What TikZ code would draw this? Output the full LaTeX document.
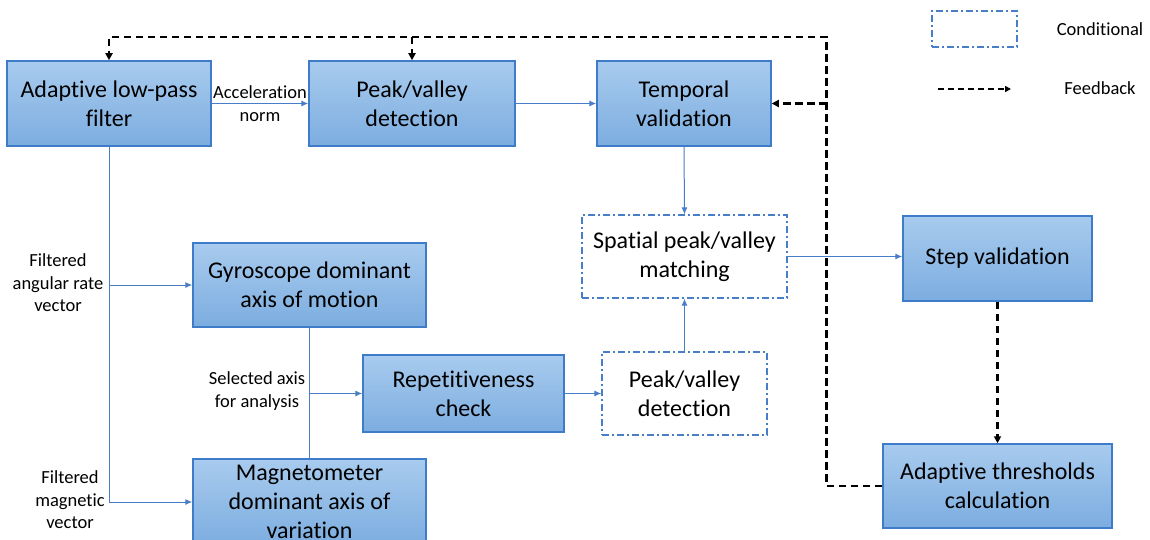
\documentclass[tikz,border=0pt]{standalone}
\usepackage{fontspec}
\setmainfont{Carlito}[Ligatures=NoCommon]
\usetikzlibrary{arrows.meta}
\definecolor{boxtop}{RGB}{168,203,238}
\definecolor{boxbot}{RGB}{124,173,224}
\definecolor{boxedge}{RGB}{62,124,202}
\definecolor{flow}{RGB}{72,126,200}
\tikzset{
  box/.style={draw=boxedge, line width=1.5pt, top color=boxtop, bottom color=boxbot,
    align=center, inner sep=0pt, font=\fontsize{24}{29}\selectfont},
  cond/.style={draw=flow, line width=1.3pt, dash pattern=on 7pt off 3pt on 2pt off 3pt,
    align=center, inner sep=0pt, font=\fontsize{24}{29}\selectfont},
  lbl/.style={align=center, inner sep=0pt, font=\fontsize{18.5}{22.5}\selectfont},
  flowline/.style={draw=flow, line width=1pt},
  flowarrow/.style={flowline, -{Latex[length=7pt,width=6pt]}},
  fbline/.style={draw=black, line width=2.2pt, dash pattern=on 7.5pt off 4.5pt},
  fbarrow/.style={fbline, -{Triangle[length=7pt,width=7pt]}},
}
\begin{document}
\begin{tikzpicture}[x=1pt,y=-1pt]
\clip (0,0) rectangle (1150,540);
\fill[white] (0,0) rectangle (1150,540);
% boxes
\node[box, minimum width=204, minimum height=85] (lpf) at (109,103.5) {Adaptive low-pass\\filter};
\node[box, minimum width=206, minimum height=85] (pk1) at (412,103.5) {Peak/valley\\detection};
\node[box, minimum width=174, minimum height=85] (tv) at (684,103.5) {Temporal\\validation};
\node[cond, minimum width=205, minimum height=83] (sp) at (684.5,256.5) {Spatial peak/valley\\matching};
\node[box, minimum width=189, minimum height=85] (sv) at (997.5,258.5) {Step validation};
\node[box, minimum width=229, minimum height=84] (at) at (997.5,486) {Adaptive thresholds\\calculation};
\node[box, minimum width=233, minimum height=84] (gy) at (309.5,285) {Gyroscope dominant\\axis of motion};
\node[box, minimum width=201, minimum height=77] (rep) at (463.5,393.5) {Repetitiveness\\check};
\node[cond, minimum width=165, minimum height=83] (pvd) at (684.5,393.5) {Peak/valley\\detection};
\node[box, minimum width=233, minimum height=86] (mag) at (309.5,502) {Magnetometer\\dominant axis of\\variation};
% labels
\node[lbl] (lacc) at (260,103.5) {Acceleration\\norm};
\node[lbl] (lgyr) at (58,283) {Filtered\\angular rate\\vector};
\node[lbl] (lmag) at (70,500) {Filtered\\magnetic\\vector};
\node[lbl] (lsel) at (257,391) {Selected axis\\for analysis};
% blue flow connectors
\draw[flowarrow] (lpf.east) -- (pk1.west);
\draw[flowarrow] (pk1.east) -- (tv.west);
\draw[flowarrow] (tv.south) -- (sp.north);
\draw[flowarrow] (sp.east) -- (sp.east -| sv.west);
\draw[flowarrow] (lpf.south) |- (mag.west);
\draw[flowarrow] (lpf.south |- gy.west) -- (gy.west);
\draw[flowline] (gy.south) -- (mag.north);
\draw[flowarrow] (gy.south |- rep.west) -- (rep.west);
\draw[flowarrow] (rep.east) -- (pvd.west);
\draw[flowarrow] (pvd.north) -- (sp.south);
% feedback
\coordinate (fbc) at (826.5,37);
\draw[fbarrow] (at.west) -| (fbc) -| (lpf.north);
\draw[fbarrow] (pk1.north |- fbc) -- (pk1.north);
\draw[fbarrow] (fbc |- tv.east) -- (tv.east);
\draw[fbarrow] (sv.south) -- (at.north);
% legend
\node[cond, minimum width=85, minimum height=36] (legc) at (974.5,29) {};
\node[lbl] (legct) at (1100,29) {Conditional};
\coordinate (lf1) at (938,89);
\coordinate (lf2) at (1011,89);
\draw[fbline, line width=1.8pt, dash pattern=on 6pt off 4pt, -{Triangle[length=6pt,width=6pt]}] (lf1) -- (lf2);
\node[lbl] (legft) at (1100,88) {Feedback};
\end{tikzpicture}
\end{document}
